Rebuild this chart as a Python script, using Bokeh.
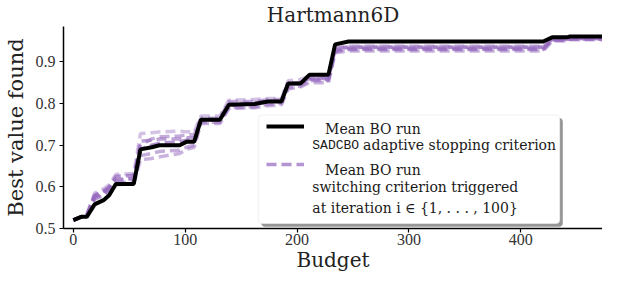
from bokeh.plotting import figure
from bokeh.models import Range1d, BoxAnnotation, Label, Legend, LegendItem
from bokeh.embed import file_html
from bokeh.resources import INLINE

# ---------------- data ----------------
budget = [0, 7, 12, 19, 27, 32, 38, 54, 60, 70, 77, 95, 101, 108, 114, 131, 139,
          162, 174, 186, 192, 203, 211, 228, 234, 246, 420, 428, 441, 444, 480]

mean_sadcbo = [0.520, 0.528, 0.528, 0.558, 0.568, 0.580, 0.607, 0.607, 0.690, 0.695,
               0.700, 0.700, 0.708, 0.708, 0.761, 0.761, 0.797, 0.799, 0.805, 0.805,
               0.848, 0.848, 0.869, 0.869, 0.942, 0.949, 0.949, 0.959, 0.959, 0.961, 0.961]

switch_run_1 = [0.520, 0.528, 0.530, 0.575, 0.585, 0.595, 0.615, 0.620, 0.700, 0.715,
                0.720, 0.722, 0.725, 0.725, 0.765, 0.765, 0.805, 0.805, 0.810, 0.810,
                0.850, 0.850, 0.862, 0.862, 0.930, 0.935, 0.935, 0.955, 0.955, 0.956, 0.956]
switch_run_2 = [0.520, 0.528, 0.532, 0.580, 0.590, 0.600, 0.625, 0.628, 0.690, 0.700,
                0.705, 0.708, 0.712, 0.712, 0.760, 0.760, 0.795, 0.800, 0.805, 0.805,
                0.845, 0.850, 0.858, 0.858, 0.925, 0.930, 0.930, 0.952, 0.952, 0.955, 0.955]
switch_run_3 = [0.520, 0.528, 0.530, 0.570, 0.580, 0.590, 0.610, 0.612, 0.675, 0.680,
                0.685, 0.688, 0.695, 0.700, 0.755, 0.755, 0.790, 0.792, 0.798, 0.800,
                0.838, 0.842, 0.855, 0.855, 0.928, 0.932, 0.932, 0.953, 0.953, 0.955, 0.955]
switch_run_4 = [0.520, 0.528, 0.530, 0.572, 0.582, 0.592, 0.605, 0.608, 0.665, 0.668,
                0.672, 0.680, 0.690, 0.695, 0.752, 0.752, 0.788, 0.790, 0.795, 0.797,
                0.835, 0.840, 0.850, 0.850, 0.922, 0.926, 0.926, 0.950, 0.950, 0.953, 0.953]
switch_run_5 = [0.520, 0.528, 0.534, 0.585, 0.595, 0.605, 0.630, 0.632, 0.728, 0.730,
                0.732, 0.734, 0.732, 0.732, 0.770, 0.770, 0.808, 0.810, 0.812, 0.812,
                0.855, 0.858, 0.866, 0.866, 0.936, 0.938, 0.938, 0.956, 0.956, 0.957, 0.957]
switch_run_6 = [0.520, 0.528, 0.531, 0.578, 0.588, 0.598, 0.618, 0.620, 0.710, 0.712,
                0.715, 0.715, 0.718, 0.718, 0.762, 0.762, 0.800, 0.802, 0.806, 0.806,
                0.846, 0.848, 0.860, 0.860, 0.932, 0.936, 0.936, 0.954, 0.954, 0.956, 0.956]
switch_runs = [switch_run_1, switch_run_2, switch_run_3, switch_run_4, switch_run_5, switch_run_6]

x_ticks = [0, 100, 200, 300, 400]
y_ticks = [0.5, 0.6, 0.7, 0.8, 0.9]

# ---------------- style ----------------
SERIF = "DejaVu Serif"
TICKFONT = "Liberation Serif"
PURPLE = "#9467bd"
run_alphas = [0.55, 0.7, 0.55, 0.5, 0.4, 0.6]

Y0, Y1 = 0.5, 0.985
FRAME_H = 204  # expected frame height in px (274 - title - x axis panel)

p = figure(width=602, height=274, x_range=Range1d(-8.8, 473),
           y_range=Range1d(Y0, Y1), output_backend="svg", toolbar_location=None,
           title="Hartmann6D", min_border_left=54, min_border_right=0,
           min_border_bottom=10, min_border_top=0)

p.title.text_font = SERIF
p.title.text_font_size = "20px"
p.title.text_font_style = "normal"
p.title.text_color = "#222222"
p.title.align = "center"
p.title.standoff = 0

p.grid.visible = False
p.outline_line_color = None
p.background_fill_color = "white"

for ax in (p.xaxis, p.yaxis):
    ax.axis_label_text_font = SERIF
    ax.axis_label_text_font_style = "normal"
    ax.axis_label_text_color = "#222222"
    ax.major_label_text_font = TICKFONT
    ax.major_label_text_font_size = "16px"
    ax.major_label_text_color = "#333333"
    ax.major_tick_out = 4
    ax.major_tick_in = 0
    ax.minor_tick_line_color = None
    ax.axis_line_width = 1.5
    ax.major_tick_line_width = 1.2
    ax.axis_label_standoff = 0
    ax.major_label_standoff = 2

p.yaxis.axis_label_standoff = 5
p.yaxis.major_label_standoff = 4
p.xaxis.major_label_standoff = 1
p.xaxis.axis_label_text_font_size = "20px"
p.yaxis.axis_label_text_font_size = "21px"
p.xaxis.ticker = x_ticks
p.yaxis.ticker = y_ticks
p.xaxis.axis_label = "Budget"
p.yaxis.axis_label = "Best value found"

run_renderers = []
for run, a in zip(switch_runs, run_alphas):
    r = p.line(budget, run, line_color=PURPLE, line_alpha=a, line_width=3.5, line_dash="10 5")
    run_renderers.append(r)

black_r = p.line(budget, mean_sadcbo, line_color="black", line_width=4)

# ---------------- legend ----------------
shadow = BoxAnnotation(left=168.0, right=437.5, top=0.7655, bottom=0.5045,
                       fill_color="#8a8a8a", fill_alpha=0.9, line_color=None, border_radius=4)
frame = BoxAnnotation(left=165.3, right=434.9, top=0.7725, bottom=0.5115,
                      fill_color="white", fill_alpha=1.0, line_color="#cccccc", line_width=1,
                      border_radius=4)
p.add_layout(shadow)
p.add_layout(frame)

px_per_y = FRAME_H / (Y1 - Y0)
item1_y, item2_y = 0.7432, 0.6524
item_h = (item1_y - item2_y) * px_per_y
legend = Legend(items=[LegendItem(label=" ", renderers=[black_r]),
                       LegendItem(label="  ", renderers=[run_renderers[1]])],
                location=(203, (item2_y - Y0) * px_per_y - item_h / 2),
                glyph_width=38, glyph_height=int(round(item_h)), label_height=int(round(item_h)),
                padding=0, margin=0, spacing=0, border_line_alpha=0,
                background_fill_alpha=0, label_text_font_size="1px", label_standoff=0,
                label_width=0)
p.add_layout(legend)

def txt(x, y, s, font=SERIF, size="14px"):
    p.add_layout(Label(x=x, y=y, text=s, text_font=font, text_font_size=size,
                       text_baseline="middle", text_align="left", text_color="#1a1a1a"))

txt(225.0, 0.738, "Mean BO run")
txt(213.6, 0.6993, "SADCBO", font="Liberation Mono", size="13px")
txt(259.0, 0.6993, "adaptive stopping criterion")
txt(225.0, 0.6416, "Mean BO run")
txt(213.6, 0.5993, "switching criterion triggered")
txt(213.6, 0.5492, "at iteration i \u2208 {1, . . . , 100}")

open("out.html", "w").write(file_html(p, INLINE))
